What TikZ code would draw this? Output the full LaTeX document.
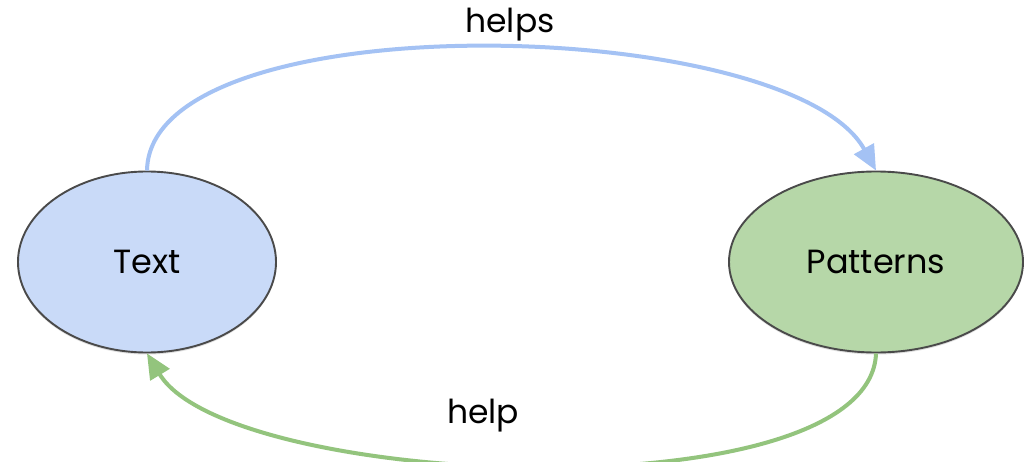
\documentclass[tikz,border=0pt]{standalone}
\usepackage{fontspec}
\setmainfont{Poppins}
\usetikzlibrary{arrows.meta,shadows,shapes.geometric}
\definecolor{bluefill}{HTML}{C9DAF8}
\definecolor{blueline}{HTML}{A4C2F4}
\definecolor{greenfill}{HTML}{B6D7A8}
\definecolor{greenline}{HTML}{93C47D}
\definecolor{outline}{HTML}{4A4A4A}
\begin{document}
\begin{tikzpicture}[x=1pt,y=-1pt,
  blob/.style={ellipse,draw=outline,line width=1.9pt,inner sep=0pt,
    font=\fontsize{33.5}{38}\selectfont,
    drop shadow={shadow xshift=0pt,shadow yshift=-2pt,opacity=0.25}},
  link/.style={line width=4pt,-{Triangle[length=25pt,width=22pt]}},
  lbl/.style={font=\fontsize{33}{38}\selectfont}]
\useasboundingbox (0,0) rectangle (1024,462);
\fill[white] (0,0) rectangle (1024,462);
% the two ideas
\node[blob,fill=bluefill,minimum width=258pt,minimum height=181pt] (text) at (147,262) {Text};
\node[blob,fill=greenfill,minimum width=294pt,minimum height=181pt] (pat) at (876,262) {Patterns};
% connectors between them
\draw[link,draw=blueline] (text.north) .. controls (150,0) and (790,15) .. (pat.north);
\draw[link,draw=greenline] (pat.south) .. controls (870,515) and (230,490) .. (text.south);
% labels
\node[lbl] (helps) at (510,25) {helps};
\node[lbl] (help) at (483,416) {help};
\end{tikzpicture}
\end{document}
